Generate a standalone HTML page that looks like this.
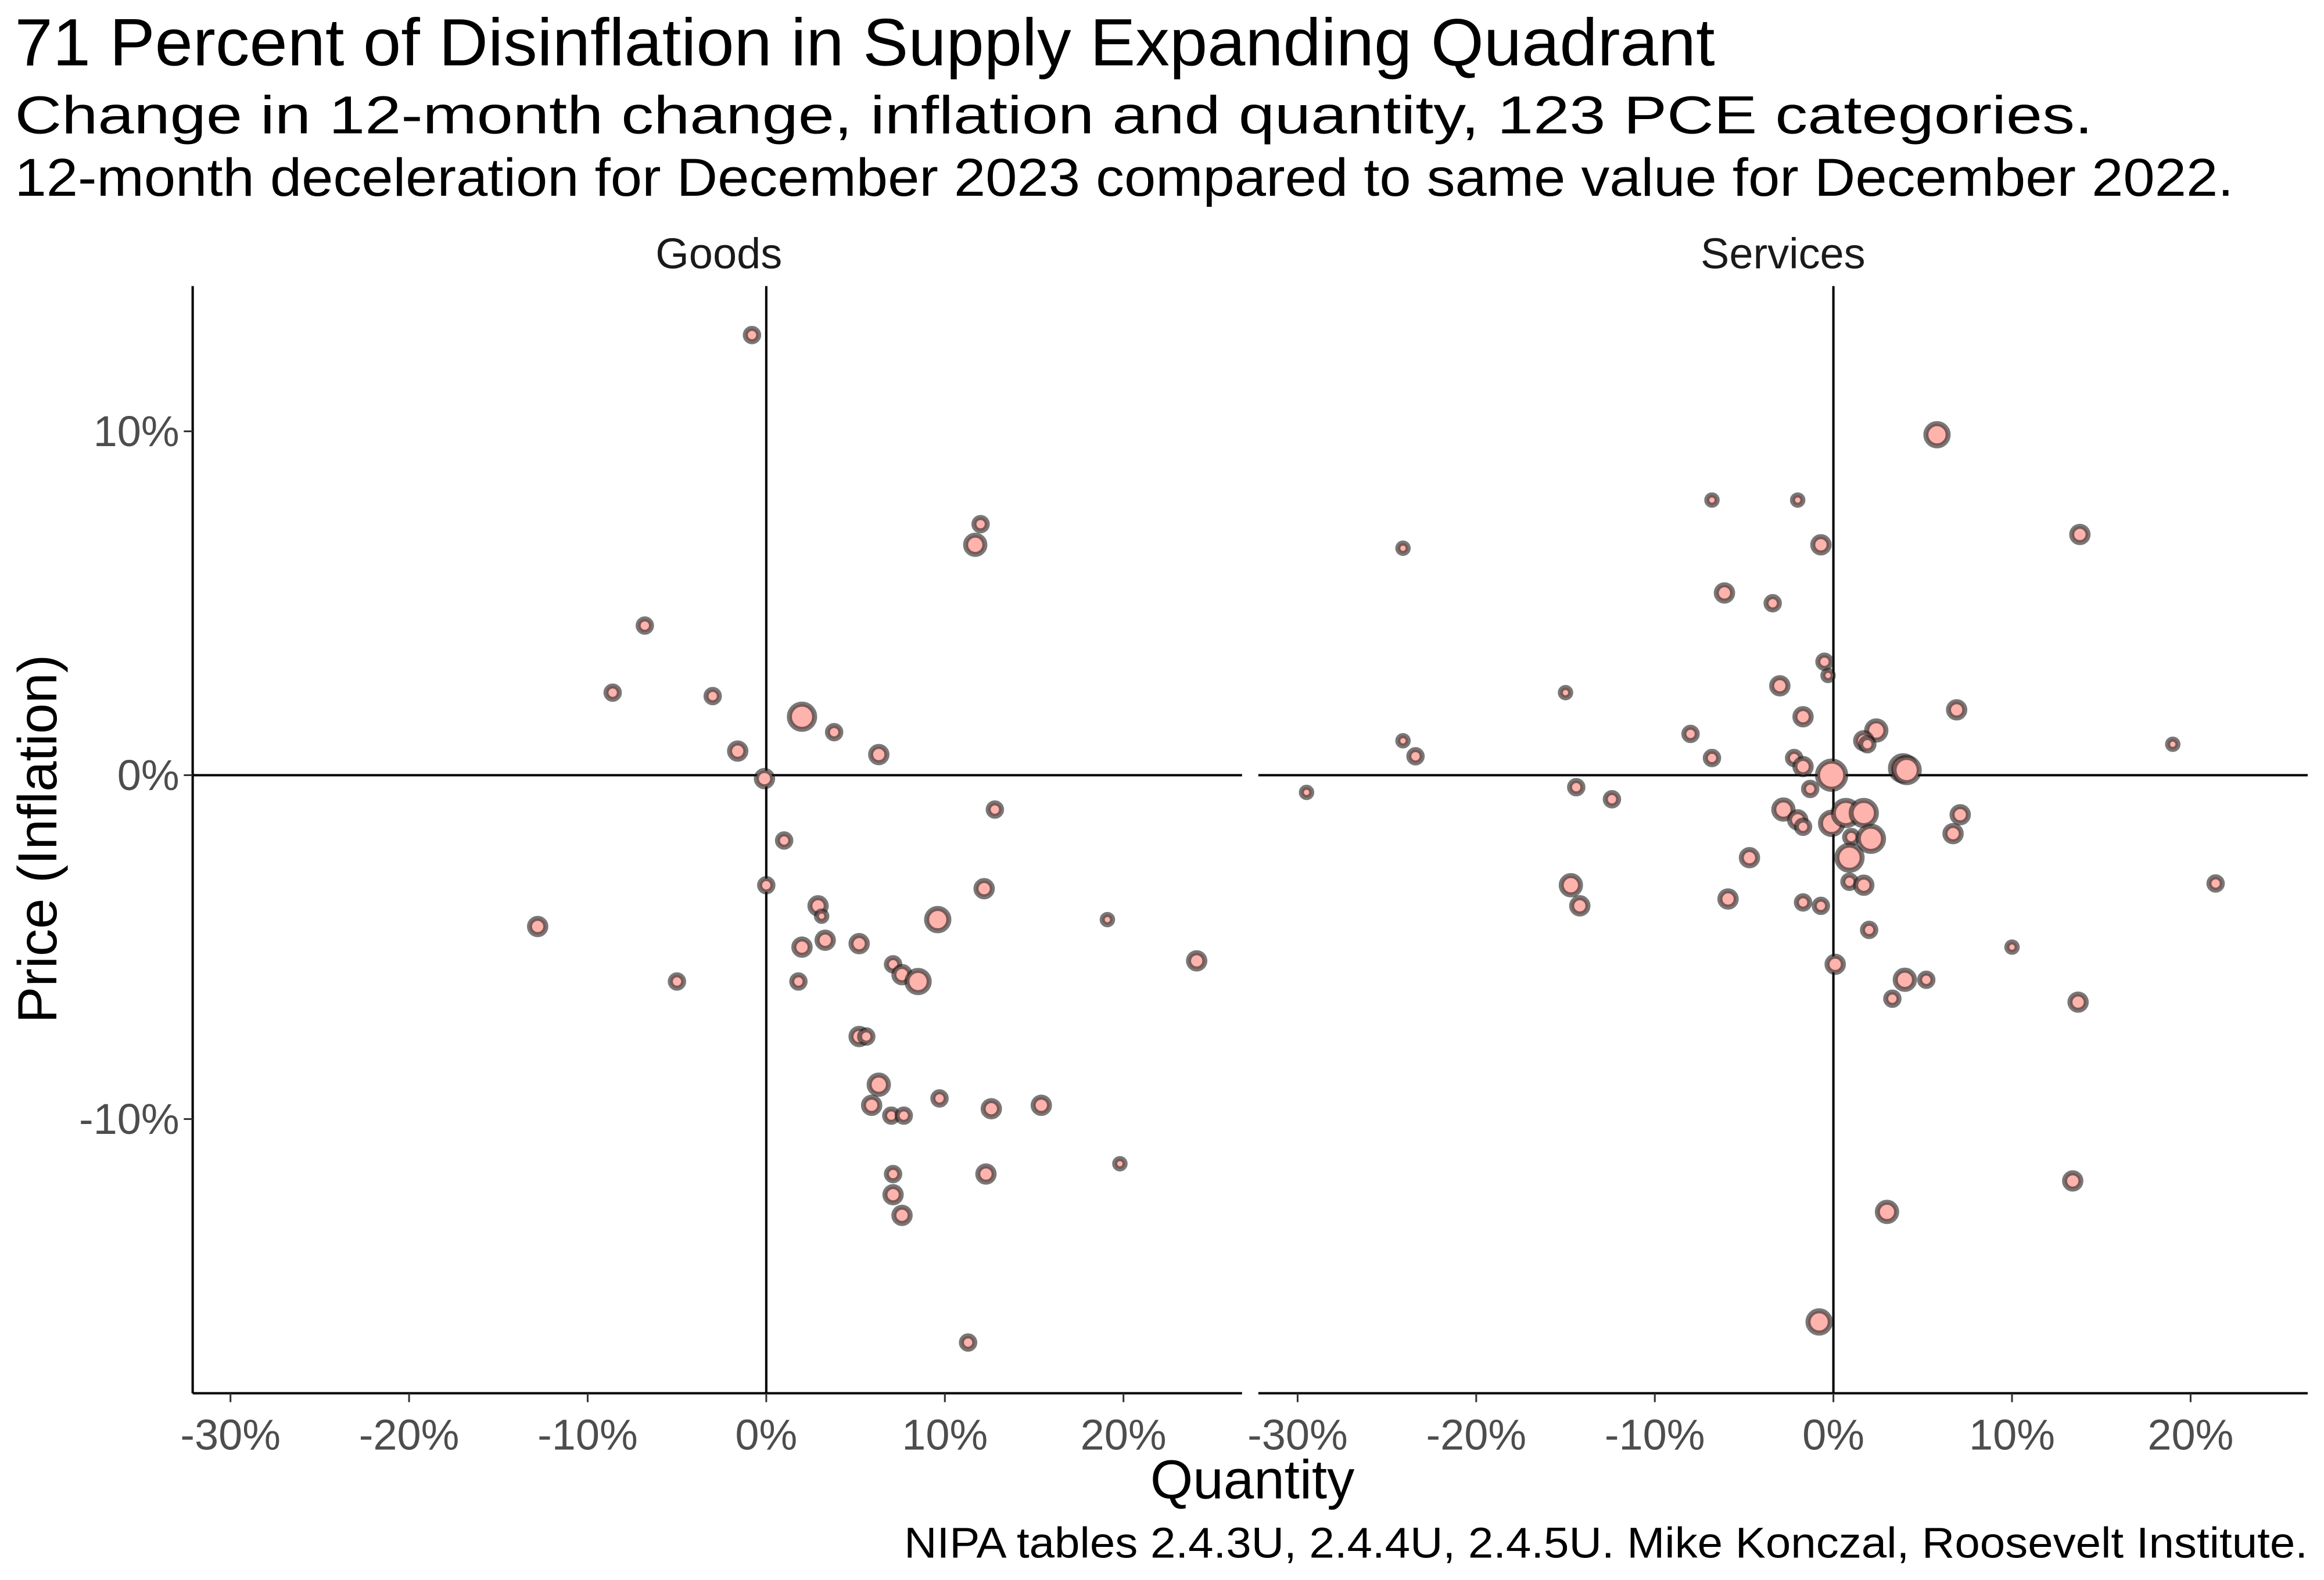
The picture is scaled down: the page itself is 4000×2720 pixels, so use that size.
<!DOCTYPE html>
<html><head><meta charset="utf-8"><style>
html,body{margin:0;padding:0;background:#fff;}
svg{display:block;font-family:"Liberation Sans",sans-serif;}
</style></head><body>
<svg id="chart" width="4000" height="2720" viewBox="0 0 1568 1066" preserveAspectRatio="none" xmlns="http://www.w3.org/2000/svg">
<text x="10" y="44" font-size="45" textLength="1147" lengthAdjust="spacingAndGlyphs" fill="#000">71 Percent of Disinflation in Supply Expanding Quadrant</text>
<text x="10" y="90" font-size="36" textLength="1402" lengthAdjust="spacingAndGlyphs" fill="#000">Change in 12-month change, inflation and quantity, 123 PCE categories.</text>
<text x="10" y="132" font-size="36" textLength="1497" lengthAdjust="spacingAndGlyphs" fill="#000">12-month deceleration for December 2023 compared to same value for December 2022.</text>
<text x="485" y="181" font-size="29" text-anchor="middle" fill="#1a1a1a">Goods</text>
<text x="1203" y="181" font-size="29" text-anchor="middle" fill="#1a1a1a">Services</text>
<text x="845" y="1011" font-size="37" text-anchor="middle" fill="#000">Quantity</text>
<text transform="translate(38,566) rotate(-90)" font-size="37" text-anchor="middle" fill="#000">Price (Inflation)</text>
<text x="1557" y="1051" font-size="29" text-anchor="end" textLength="947" lengthAdjust="spacingAndGlyphs" fill="#000">NIPA tables 2.4.3U, 2.4.4U, 2.4.5U. Mike Konczal, Roosevelt Institute.</text>
<g id="plot"></g>
</svg>
<script>
const xTicks = [-30,-20,-10,0,10,20];
const yTicks = [10,0,-10];
const goodsQty = [-0.8,12.0,11.7,-6.8,-8.6,-3.0,2.0,3.8,-1.6,6.3,-0.1,12.8,1.0,-12.8,0,12.2,2.9,3.1,3.3,2.0,5.2,19.1,9.6,-5.0,1.8,7.1,7.6,8.5,24.1,5.2,5.6,6.3,5.9,9.7,7.0,7.7,12.6,15.4,19.8,7.1,12.3,7.1,7.6,11.3];
const goodsPrice = [12.8,7.3,6.7,4.35,2.4,2.3,1.7,1.25,0.7,0.6,-0.1,-1.0,-1.9,-4.4,-3.2,-3.3,-3.8,-4.1,-4.8,-5.0,-4.9,-4.2,-4.2,-6.0,-6.0,-5.5,-5.8,-6.0,-5.4,-7.6,-7.6,-9.0,-9.6,-9.4,-9.9,-9.9,-9.7,-9.6,-11.3,-11.6,-11.6,-12.2,-12.8,-16.5];
const goodsSize = [4,4,6,4,4,4,8,4,5,5,5,4,4,5,4,5,5,3,5,5,5,3,7,4,4,4,5,7,5,5,4,6,5,4,4,4,5,5,3,4,5,5,5,4];
const servQty = [5.8,-6.8,-2.0,13.8,-24.1,-0.7,-6.1,-3.4,-0.5,-0.3,-15.0,-3.0,-1.7,6.9,2.4,-8.0,-24.1,1.7,1.9,19.0,-23.4,-6.8,-2.2,-1.7,3.9,4.1,-0.1,-1.3,-29.5,-14.4,-12.4,-2.8,-2.0,-1.7,-0.1,0.7,1.7,1.0,2.1,7.1,6.7,0.9,-4.7,-14.7,-14.2,0.9,1.7,-5.9,-1.7,-0.7,21.4,2.0,10.0,0.1,4.0,5.2,3.3,13.7,13.4,3.0,-0.8];
const servPrice = [9.9,8.0,8.0,7.0,6.6,6.7,5.3,5.0,3.3,2.9,2.4,2.6,1.7,1.9,1.3,1.2,1.0,1.0,0.9,0.9,0.55,0.5,0.5,0.25,0.2,0.15,0.0,-0.4,-0.5,-0.35,-0.7,-1.0,-1.3,-1.5,-1.4,-1.1,-1.1,-1.8,-1.85,-1.15,-1.7,-2.4,-2.4,-3.2,-3.8,-3.1,-3.2,-3.6,-3.7,-3.8,-3.15,-4.5,-5.0,-5.5,-5.95,-5.95,-6.5,-6.6,-11.8,-12.7,-15.9];
const servSize = [7,3,3,5,3,5,5,4,4,3,3,5,5,5,6,4,3,5,4,3,4,4,4,5,8,8,9,4,3,4,4,6,5,4,7,8,8,4,8,5,5,8,5,6,5,4,5,5,4,4,4,4,3,5,6,4,4,5,5,6,7];

const NS='http://www.w3.org/2000/svg';
const plot=document.getElementById('plot');
const yTop=193, yBot=940;
function yScale(v){return 523-v*23.2;}
function mk(tag,attrs){const e=document.createElementNS(NS,tag);for(const k in attrs)e.setAttribute(k,attrs[k]);plot.appendChild(e);return e;}

const panels=[{name:'goods',x0:130,x1:838,zero:517,qty:goodsQty,price:goodsPrice,size:goodsSize},
              {name:'services',x0:849,x1:1557,zero:1237,qty:servQty,price:servPrice,size:servSize}];
panels.forEach((p,pi)=>{
  const xs=v=>p.zero+v*12.05;
  let h=mk('line',{x1:p.x0,x2:p.x1,y1:yScale(0),y2:yScale(0),stroke:'#000','stroke-width':1.6});
  
  
  let v=mk('line',{x1:xs(0),x2:xs(0),y1:yTop,y2:yBot,stroke:'#000','stroke-width':1.6});
  
  
  let xa=mk('line',{x1:p.x0,x2:p.x1,y1:yBot,y2:yBot,stroke:'#000','stroke-width':1.6});
  
  
  xTicks.forEach(t=>{
    let tk=mk('line',{x1:xs(t),x2:xs(t),y1:yBot,y2:yBot+6,stroke:'#333','stroke-width':1.2});
    
    
    let tl=mk('text',{x:xs(t),y:yBot+38,'font-size':29,'text-anchor':'middle',fill:'#4d4d4d'});
    tl.textContent=t+'%';
    
    
  });
  if(pi===0){
    let ya=mk('line',{x1:p.x0,x2:p.x0,y1:yTop,y2:yBot,stroke:'#000','stroke-width':1.6});
    
    
    yTicks.forEach(t=>{
      let tk=mk('line',{x1:p.x0-6,x2:p.x0,y1:yScale(t),y2:yScale(t),stroke:'#333','stroke-width':1.2});
      
      
      let tl=mk('text',{x:p.x0-9,y:yScale(t)+10,'font-size':29,'text-anchor':'end',fill:'#4d4d4d'});
      tl.textContent=t+'%';
      
      
    });
  }
  p.qty.forEach((q,i)=>{
    let c=mk('circle',{cx:xs(q),cy:yScale(p.price[i]),r:p.size[i]+0.5,fill:'#ffb3ad','stroke':'rgba(30,30,30,0.6)','stroke-width':3.4});
    
    
  });
});
</script>
</body></html>
